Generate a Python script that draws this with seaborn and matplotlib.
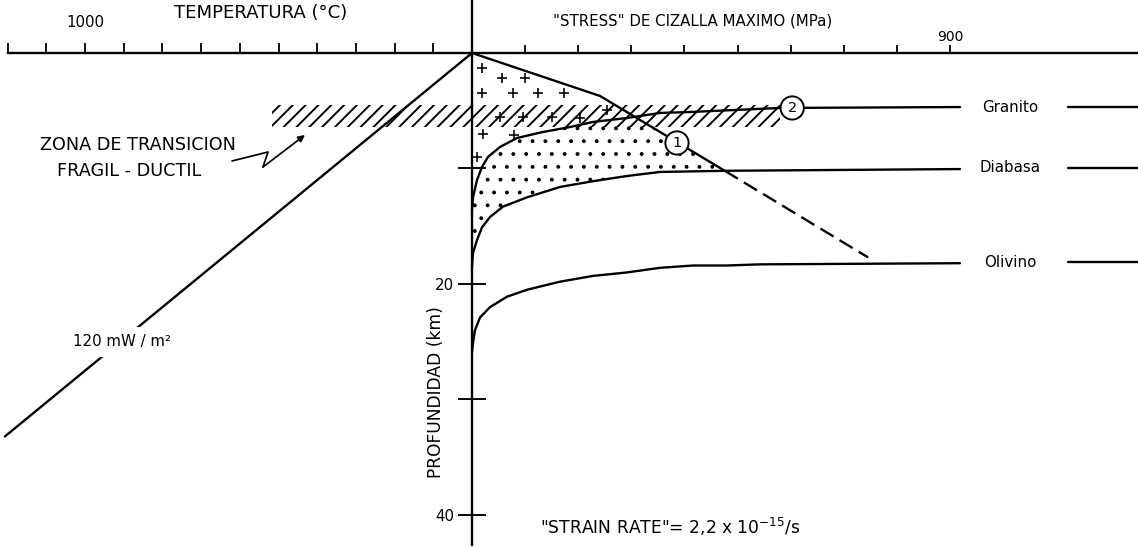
import matplotlib
matplotlib.use("Agg")
import matplotlib.pyplot as plt
import matplotlib.transforms as mtransforms
from matplotlib.patches import Polygon
import seaborn as sns

# values
# stress (MPa) / depth (km) of the ductile flow curves
granite_stress = [0, 1.9, 9.4, 18.8, 30.1, 52.7, 84.7, 133.7, 184.6, 227.9, 291.9, 354.0, 410.5, 580.0, 919.0]
granite_depth = [13.6, 12.5, 11.0, 9.87, 9.0, 8.14, 7.36, 6.84, 6.41, 5.97, 5.63, 5.19, 5.11, 4.76, 4.68]

diabase_stress = [0, 1.9, 9.4, 18.8, 33.9, 58.4, 103.6, 165.7, 227.9, 291.9, 354.0, 476.5, 919.0]
diabase_depth = [18.5, 17.3, 16.2, 15.1, 14.2, 13.3, 12.5, 11.6, 11.1, 10.65, 10.3, 10.2, 10.05]

olivine_stress = [0, 1.9, 5.6, 15.1, 33.9, 65.9, 103.6, 165.7, 227.9, 291.9, 354.0, 416.2, 480.2, 542.4, 919.0]
olivine_depth = [25.9, 25.1, 24.0, 22.9, 22.0, 21.1, 20.5, 19.8, 19.3, 19.0, 18.6, 18.4, 18.4, 18.3, 18.2]

# frictional (brittle) line, solid then extrapolated (dashed)
brittle_stress = [0, 241, 476]
brittle_depth = [0, 3.72, 10.2]
brittle_ext_stress = [476, 746]
brittle_ext_depth = [10.2, 17.7]

# geotherm 120 mW/m2 : temperature (C) vs depth (km)
geotherm_temp = [0, 1207]
geotherm_depth = [0, 33.2]

# brittle-ductile transition band
band_stress = [-377, 580]
band_top, band_bottom = 4.5, 6.4

# "+" symbols of the brittle granite field
cross_stress = [18.8, 56.5, 99.8, 18.8, 77.2, 124.3, 173.3, 52.7, 96.0, 150.7, 203.4, 254.2, 20.7, 79.1, 9.4]
cross_depth = [1.30, 2.16, 2.16, 3.46, 3.46, 3.46, 3.46, 5.54, 5.54, 5.54, 5.63, 4.94, 7.01, 7.10, 9.00]

layer_names = ['Granito', 'Diabasa', 'Olivino']
layer_depth = [4.68, 9.95, 18.1]

stress_ticks = [100, 200, 300, 400, 500, 600, 700, 800, 900]
stress_ticklabels = ['', '', '', '', '', '', '', '', '900']
temp_ticks = [100, 200, 300, 400, 500, 600, 700, 800, 900, 1000, 1100, 1200]
temp_ticklabels = ['', '', '', '', '', '', '', '', '', '1000', '', '']
depth_ticks = [10, 20, 30, 40]
depth_ticklabels = ['', '20', '', '40']

sns.set_style("white")
plt.rcParams['font.family'] = ['DejaVu Sans']
plt.rcParams['hatch.color'] = 'black'
for key in ['text.color', 'xtick.color', 'ytick.color', 'xtick.labelcolor', 'ytick.labelcolor', 'axes.edgecolor']:
    plt.rcParams[key] = 'black'

W, H, DPI = 1138, 549, 77
ORIGIN_X, ORIGIN_Y = 472, 53          # pixel of (0 MPa, 0 km)
PX_PER_MPA, PX_PER_KM, PX_PER_C = 0.531, 11.55, 0.387
LW = 2.2

fig = plt.figure(figsize=((W + 0.02) / DPI, (H + 0.02) / DPI), dpi=DPI)
ax = fig.add_axes([0, 0, 1, 1])
ax2 = ax.twiny()

s_min, s_max = -ORIGIN_X / PX_PER_MPA, (W - ORIGIN_X) / PX_PER_MPA
d_top, d_bot = -ORIGIN_Y / PX_PER_KM, (H - ORIGIN_Y) / PX_PER_KM

# pixel transform for free text / annotations
px = mtransforms.Affine2D().scale(1 / W, -1 / H).translate(0, 1) + ax.transAxes

# hatched transition band
with plt.rc_context({'hatch.linewidth': 1.8}):
    ax.fill_between(band_stress, band_top, band_bottom, facecolor='none',
                    edgecolor='black', hatch='//', linewidth=0)

# dotted ductile field between granite and diabase, left of the brittle line
with plt.rc_context({'hatch.linewidth': 1.2}):
    dots = ax.fill(granite_stress + diabase_stress[::-1], granite_depth + diabase_depth[::-1],
                   facecolor='none', edgecolor='black', hatch='.', linewidth=0)[0]
clip = Polygon(list(zip([-10] + brittle_stress + brittle_ext_stress[1:] + [-10],
                        [0] + brittle_depth + brittle_ext_depth[1:] + [brittle_ext_depth[-1]])),
               closed=True, transform=ax.transData)
dots.set_clip_path(clip)

for xs, ys in [(granite_stress, granite_depth), (diabase_stress, diabase_depth),
               (olivine_stress, olivine_depth)]:
    sns.lineplot(x=xs, y=ys, sort=False, estimator=None, color='black', lw=LW, ax=ax)

sns.lineplot(x=brittle_stress, y=brittle_depth, sort=False, estimator=None,
             color='black', lw=LW, ax=ax)
ax.plot(brittle_ext_stress, brittle_ext_depth, color='black', lw=LW, dashes=(6.5, 3))

sns.scatterplot(x=cross_stress, y=cross_depth, marker='+', s=90, color='black',
                linewidth=1.5, ax=ax, zorder=4)

# right-hand layer labels
for name, d in zip(layer_names, layer_depth):
    ax.plot([1122, s_max], [d, d], color='black', lw=LW)
    ax.text(1013, d, name, ha='center', va='center', fontsize=14)

circle = dict(boxstyle='circle,pad=0.32', fc='white', ec='black', lw=1.8)
ax.text(386, 7.79, '1', ha='center', va='center', fontsize=13.5, bbox=circle, zorder=5)
ax.text(603, 4.76, '2', ha='center', va='center', fontsize=13.5, bbox=circle, zorder=5)

# axes: stress (top right), depth (vertical), temperature (top left)
for side in ['right', 'bottom']:
    ax.spines[side].set_visible(False)
ax.spines['top'].set_position(('data', 0))
ax.spines['top'].set_bounds(0, s_max)
ax.spines['left'].set_position(('data', 0))
ax.spines['left'].set_bounds(42.6, d_top)
for sp in ax.spines.values():
    sp.set_linewidth(LW)
ax.xaxis.tick_top()
ax.set_xticks(stress_ticks)
ax.set_xticklabels(stress_ticklabels)
ax.tick_params(axis='x', direction='out', length=7.5, width=1.7, pad=1, labelsize=13)
ax.yaxis.tick_left()
ax.set_yticks(depth_ticks)
ax.set_yticklabels(depth_ticklabels)
ax.tick_params(axis='y', direction='inout', length=27, width=1.8, pad=3, labelsize=14)
ax.set_xlim(s_min, s_max)
ax.set_ylim(d_bot, d_top)

sns.lineplot(x=geotherm_temp, y=geotherm_depth, sort=False, estimator=None,
             color='black', lw=LW, ax=ax2)
ax2.text(904, 25.0, '120 mW / m²', ha='center', va='center', fontsize=14,
         bbox=dict(boxstyle='square,pad=0.5', fc='white', ec='none'))
for side in ['right', 'bottom', 'left']:
    ax2.spines[side].set_visible(False)
ax2.spines['top'].set_position(('data', 0))
ax2.spines['top'].set_bounds(0, 1200)
ax2.spines['top'].set_linewidth(LW)
ax2.set_xticks(temp_ticks)
ax2.set_xticklabels(temp_ticklabels)
ax2.tick_params(axis='x', direction='out', length=9.5, width=1.7, pad=12, labelsize=14)
ax2.set_xlim(ORIGIN_X / PX_PER_C, -(W - ORIGIN_X) / PX_PER_C)
ax2.set_ylim(d_bot, d_top)

# titles and notes
ax.text(261, 13, 'TEMPERATURA (°C)', transform=px, ha='center', va='center', fontsize=17)
ax.text(693, 21, '"STRESS" DE CIZALLA MAXIMO (MPa)', transform=px, ha='center', va='center', fontsize=14)
ax.text(436, 392, 'PROFUNDIDAD (km)', transform=px, rotation=90, ha='center', va='center', fontsize=16)
ax.text(670, 527, '"STRAIN RATE"= 2,2 x 10$^{-15}$/s', transform=px, ha='center', va='center', fontsize=16)
ax.text(138, 145, 'ZONA DE TRANSICION', transform=px, ha='center', va='center', fontsize=16.5)
ax.text(129, 171, 'FRAGIL - DUCTIL', transform=px, ha='center', va='center', fontsize=16.5)

ax.plot([232, 268, 263], [161, 152, 167], transform=px, color='black', lw=1.6)
ax.annotate('', xy=(305, 135), xytext=(263, 167), xycoords=px, textcoords=px,
            arrowprops=dict(arrowstyle='-|>', color='black', lw=1.6, mutation_scale=13,
                            shrinkA=0, shrinkB=0))

fig.savefig('out.png', dpi=DPI)
